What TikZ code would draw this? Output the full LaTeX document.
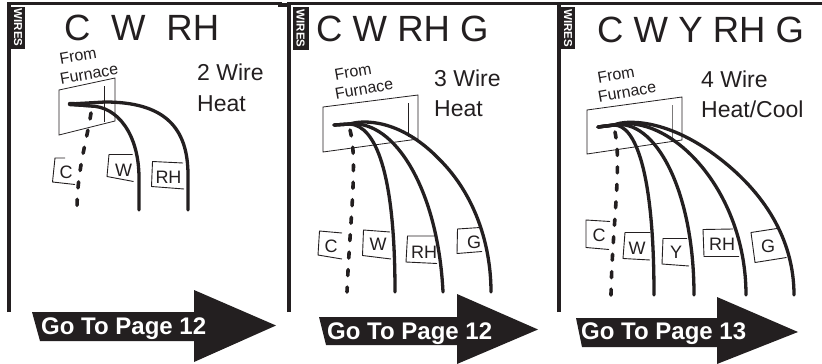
\documentclass[tikz,border=0pt]{standalone}
\usepackage{fontspec}
\setmainfont{Liberation Sans}
\definecolor{ink}{HTML}{231F20}
\tikzset{
  frameline/.style={draw=ink,line width=3.2pt},
  tabbox/.style={fill=ink,text=white,inner sep=0pt,minimum width=42pt,minimum height=14pt,font=\fontsize{11.5}{11.5}\selectfont\bfseries,align=center},
  titletext/.style={anchor=base west,inner sep=0pt,text=ink,font=\fontsize{36.5}{36.5}\selectfont},
  furn/.style={text=ink,inner sep=0pt,rotate=10,font=\fontsize{16}{16}\selectfont},
  kind/.style={anchor=base west,inner sep=0pt,text=ink,font=\fontsize{23}{23}\selectfont},
  plate/.style={draw=ink,line width=0.8pt,line join=miter},
  wire/.style={draw=ink,line width=3.3pt,line cap=round},
  dashwire/.style={wire,line width=3.6pt,dash pattern=on 6pt off 11.5pt},
  tag/.style={draw=ink,line width=0.9pt},
  taglabel/.style={text=ink,inner sep=0pt,font=\fontsize{18}{18}\selectfont},
  bigarrow/.style={fill=ink},
  gotext/.style={anchor=base west,inner sep=0pt,text=white,font=\fontsize{24}{24}\selectfont\bfseries}
}
\begin{document}
\begin{tikzpicture}[x=1pt,y=-1pt]
\useasboundingbox[fill=white] (0,0) rectangle (822,364);
% frames
\draw[frameline] (9,312) -- (9,3.5) -- (280,3.5) -- (280,5) -- (290,5);
\draw[frameline] (289,312) -- (289,3.5) -- (822,3.5);
\draw[frameline] (559,312) -- (559,3.5);
\node[tabbox,rotate=-90] (tab1) at (18,27.5) {WIRES};
\node[tabbox,rotate=-90,minimum height=16pt,minimum width=43pt] (tab2) at (300.5,28.5) {WIRES};
\node[tabbox,rotate=-90] (tab3) at (568,28) {WIRES};
% panel 1
\node[titletext] (t1) at (64,40) {C\hspace{20.5pt}W\hspace{21pt}RH};
\node[furn] (from1) at (78,56) {From};
\node[furn] (fur1) at (89,74) {Furnace};
\node[kind] (k1a) at (197,80) {2 Wire};
\node[kind] (k1b) at (197,111) {Heat};
\draw[plate] (59,90) -- (115,78) -- (115,121) -- (59,135) -- cycle;
\draw[plate] (104,86) -- (104,122);
\coordinate (s1) at (70,104);
\coordinate (e1c) at (77,210);
\coordinate (e1w) at (139,210);
\coordinate (e1r) at (188,210);
\draw[wire] (s1) -- (105,102) .. controls (165,102) and (188,128) .. (188,175) -- (e1r);
\draw[wire] (s1) -- (90,106) .. controls (118,106) and (139,135) .. (139,178) -- (e1w);
\draw[wire,line width=4.5pt] (s1) -- (88,105);
\draw[dashwire] (91,113) .. controls (87,140) and (77,170) .. (e1c);
\node[taglabel] (c1) at (66,172) {C};
\node[taglabel] (w1) at (123.5,170) {W};
\node[taglabel] (r1) at (168.5,177) {RH};
\draw[tag] (65,158) -- (55,158) -- (52.5,182) -- (75,184.5);
\draw[tag] (132.5,154.5) -- (109,154.5) -- (107,176.5) -- (133.5,181.5);
\draw[tag] (183,163) -- (152.5,161.5) -- (151.5,186.5) -- (184,189);
\path[bigarrow] (32,312) -- (194,312) -- (194,290) -- (276,325.5) -- (194,362) -- (194,341) -- (40,341) -- cycle;
\node[gotext] (go1) at (41,334) {Go To Page 12};
% panel 2
\node[titletext] (t2) at (316,41) {C W RH G};
\node[furn] (from2) at (353,72) {From};
\node[furn] (fur2) at (364,89) {Furnace};
\node[kind] (k2a) at (434,86) {3 Wire};
\node[kind] (k2b) at (434,116) {Heat};
\draw[plate] (323,107) -- (418,95) -- (418,139) -- (323,152) -- cycle;
\draw[plate] (408,103) -- (408,137);
\coordinate (s2) at (334,125);
\coordinate (e2c) at (347,292);
\coordinate (e2w) at (395,292);
\coordinate (e2r) at (443,292);
\coordinate (e2g) at (491,292);
\draw[wire] (s2) -- (350,124) .. controls (375,126) and (395,170) .. (e2w);
\draw[wire] (s2) -- (350,124) .. controls (395,120) and (438,190) .. (e2r);
\draw[wire] (s2) -- (350,124) .. controls (362,120) and (400,118) .. (440,160) .. controls (475,195) and (491,245) .. (e2g);
\draw[dashwire] (350,130) .. controls (358,160) and (350,220) .. (e2c);
\node[taglabel] (c2) at (331,246) {C};
\node[taglabel] (w2) at (378,244) {W};
\node[taglabel] (r2) at (424,252) {RH};
\node[taglabel] (g2) at (474,242) {G};
\draw[tag] (342,233) -- (319.5,231) -- (318,255) -- (342,259);
\draw[tag] (390,232) -- (363.5,230) -- (362.5,255.5) -- (391,259);
\draw[tag] (435,236) -- (407.5,236) -- (406,262) -- (437,263.5);
\draw[tag] (480,227.5) -- (457.5,229) -- (457,253.5) -- (482,251.5);
\path[bigarrow] (319,317) -- (457,317) -- (457,294) -- (538,329.5) -- (457,364) -- (457,345) -- (326,345) -- cycle;
\node[gotext] (go2) at (327,339) {Go To Page 12};
% panel 3
\node[titletext] (t3) at (597,42) {C W Y RH G};
\node[furn] (from3) at (616,75) {From};
\node[furn] (fur3) at (627,92) {Furnace};
\node[kind] (k3a) at (701,87) {4 Wire};
\node[kind] (k3b) at (701,117) {Heat/Cool};
\draw[plate] (587,110) -- (682,97) -- (682,140) -- (587,154) -- cycle;
\draw[plate,draw=ink!60] (672,105) -- (672,140);
\coordinate (s3) at (598,127);
\coordinate (e3c) at (611,295);
\coordinate (e3w) at (654,295);
\coordinate (e3y) at (694,295);
\coordinate (e3r) at (746,295);
\coordinate (e3g) at (794,295);
\draw[wire] (s3) -- (614,125) .. controls (635,125) and (654,170) .. (e3w);
\draw[wire] (s3) -- (614,125) .. controls (655,118) and (694,190) .. (e3y);
\draw[wire] (s3) -- (614,125) .. controls (670,112) and (746,190) .. (e3r);
\draw[wire] (s3) -- (614,125) .. controls (625,120) and (665,118) .. (715,155) .. controls (765,192) and (794,240) .. (e3g);
\draw[dashwire] (615,132) .. controls (622,165) and (612,230) .. (e3c);
\node[taglabel] (c3) at (599,235) {C};
\node[taglabel] (w3) at (637,248) {W};
\node[taglabel] (y3) at (676,252) {Y};
\node[taglabel] (r3) at (722,244) {RH};
\node[taglabel] (g3) at (768,246) {G};
\draw[tag] (610,221.5) -- (586,220) -- (586,247.5) -- (609,249.5);
\draw[tag] (650,232.5) -- (625,232.5) -- (623,258.5) -- (650,260);
\draw[tag] (687,238.5) -- (663,238.5) -- (662,264) -- (689,266);
\draw[tag] (733,229) -- (703,229.5) -- (704,256.5) -- (739,256.5);
\draw[tag] (777,228.5) -- (751,232.5) -- (755,262.5) -- (786.5,257.5);
\path[bigarrow] (576,318) -- (717,318) -- (717,297) -- (798,332) -- (717,364) -- (717,347) -- (582,347) -- cycle;
\node[gotext] (go3) at (581,339) {Go To Page 13};
\end{tikzpicture}
\end{document}
